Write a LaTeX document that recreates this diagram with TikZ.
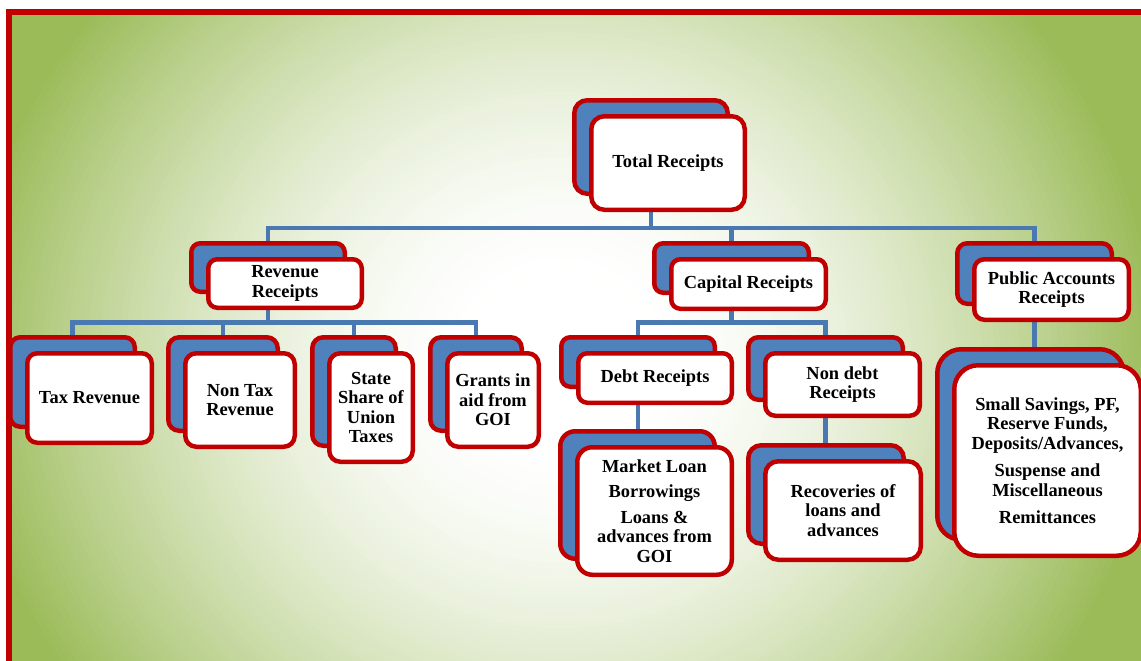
\documentclass[tikz,border=0pt]{standalone}
\usepackage{fontspec}
\setmainfont{Liberation Serif}
\definecolor{frred}{RGB}{192,0,0}
\definecolor{bxblue}{RGB}{79,129,189}
\definecolor{lnblue}{RGB}{74,120,176}
\definecolor{bggreen}{RGB}{155,187,89}
\pgfdeclarelayer{bg}
\pgfdeclarelayer{lines}
\pgfsetlayers{bg,lines,main}
\newcommand\pairbox[7]{%
  \node[backbox, minimum width=#4pt, minimum height=#5pt, rounded corners=#6pt] (#1-b) at (#2-17,#3-16) {};
  \node[frontbox, minimum width=#4pt, minimum height=#5pt, rounded corners=#6pt] (#1) at (#2,#3) {#7};
}
\begin{document}
\begin{tikzpicture}[x=1pt,y=-1pt,
  frontbox/.style={draw=frred, line width=4.5pt, fill=white, inner sep=0pt, align=center,
    font=\bfseries\fontsize{18.4}{19.5}\selectfont},
  backbox/.style={draw=frred, line width=4.5pt, fill=bxblue, inner sep=0pt},
  conn/.style={draw=lnblue, line width=4.5pt},
  frame/.style={draw=frred, line width=6pt}]
\useasboundingbox (0,0) rectangle (1141,661);

\pairbox{tot}{668}{163}{153.5}{93.5}{13}{Total Receipts}
\pairbox{rev}{285}{283.5}{153.5}{48.5}{9}{Revenue\\Receipts}
\pairbox{cap}{748.5}{284}{154.5}{49.5}{9}{Capital Receipts}
\pairbox{pub}{1051.5}{289.5}{154.5}{60.5}{10}{Public Accounts\\Receipts}
\pairbox{tax}{89.5}{398}{124.5}{89.5}{10}{Tax Revenue}
\pairbox{ntax}{240}{400}{109.5}{93.5}{11}{Non Tax\\Revenue}
\pairbox{state}{371}{407.5}{83.5}{108.5}{11}{State\\Share of\\Union\\Taxes}
\pairbox{grant}{493}{400}{91.5}{93.5}{11}{Grants in\\aid from\\GOI}
\pairbox{debt}{655}{378}{153.5}{49.5}{9}{Debt Receipts}
\pairbox{ndebt}{842.5}{384.5}{154.5}{62.5}{10}{Non debt\\Receipts}
\pairbox{mkt}{654.5}{511}{154.5}{127.5}{15}{Market Loan\\[6pt]Borrowings\\[6pt]Loans \&\\advances from\\GOI}
\pairbox{rec}{843}{510.5}{155.5}{98.5}{13}{Recoveries of\\loans and\\advances}
\pairbox{ss}{1047.5}{460.5}{186.5}{190.5}{24}{Small Savings, PF,\\Reserve Funds,\\Deposits/Advances,\\[8pt]Suspense and\\Miscellaneous\\[8pt]Remittances}

\begin{pgfonlayer}{lines}
  \coordinate (bus1) at (0,228);
  \coordinate (bus2) at (0,322.5);
  \draw[conn] (tot-b.center) -- (tot-b.center |- bus1);
  \draw[conn] (rev-b.center) -- (rev-b.center |- bus1) -- (pub-b.center |- bus1) -- (pub-b.center);
  \draw[conn] (cap-b.center) -- (cap-b.center |- bus1);
  \draw[conn] (rev-b.center) -- (rev-b.center |- bus2);
  \draw[conn] (tax-b.center) -- (tax-b.center |- bus2) -- (grant-b.center |- bus2) -- (grant-b.center);
  \draw[conn] (ntax-b.center) -- (ntax-b.center |- bus2);
  \draw[conn] (state-b.center) -- (state-b.center |- bus2);
  \draw[conn] (cap-b.center) -- (cap-b.center |- bus2);
  \draw[conn] (debt-b.center) -- (debt-b.center |- bus2) -- (ndebt-b.center |- bus2) -- (ndebt-b.center);
  \draw[conn] (debt-b.center) -- (debt-b.center |- mkt-b.center);
  \draw[conn] (ndebt-b.center) -- (ndebt-b.center |- rec-b.center);
  \draw[conn] (pub-b.center) -- (pub-b.center |- ss-b.center);
\end{pgfonlayer}

\begin{pgfonlayer}{bg}
  \fill[white] (0,0) rectangle (1141,661);
  \begin{scope}
    \clip (9,12) rectangle (1141,661);
    \fill[bggreen] (9,12) rectangle (1141,661);
    \foreach \i in {80,...,1} {
      \pgfmathsetmacro\rr{0.15+0.85*\i/80}
      \pgfmathsetmacro\ff{100*(\i/80)^1.6}
      \fill[bggreen!\ff!white] (560,360) ellipse [x radius=600*\rr, y radius=560*\rr];
    }
  \end{scope}
\end{pgfonlayer}

\draw[frame] (9,12) rectangle (1160,680);
\end{tikzpicture}
\end{document}
